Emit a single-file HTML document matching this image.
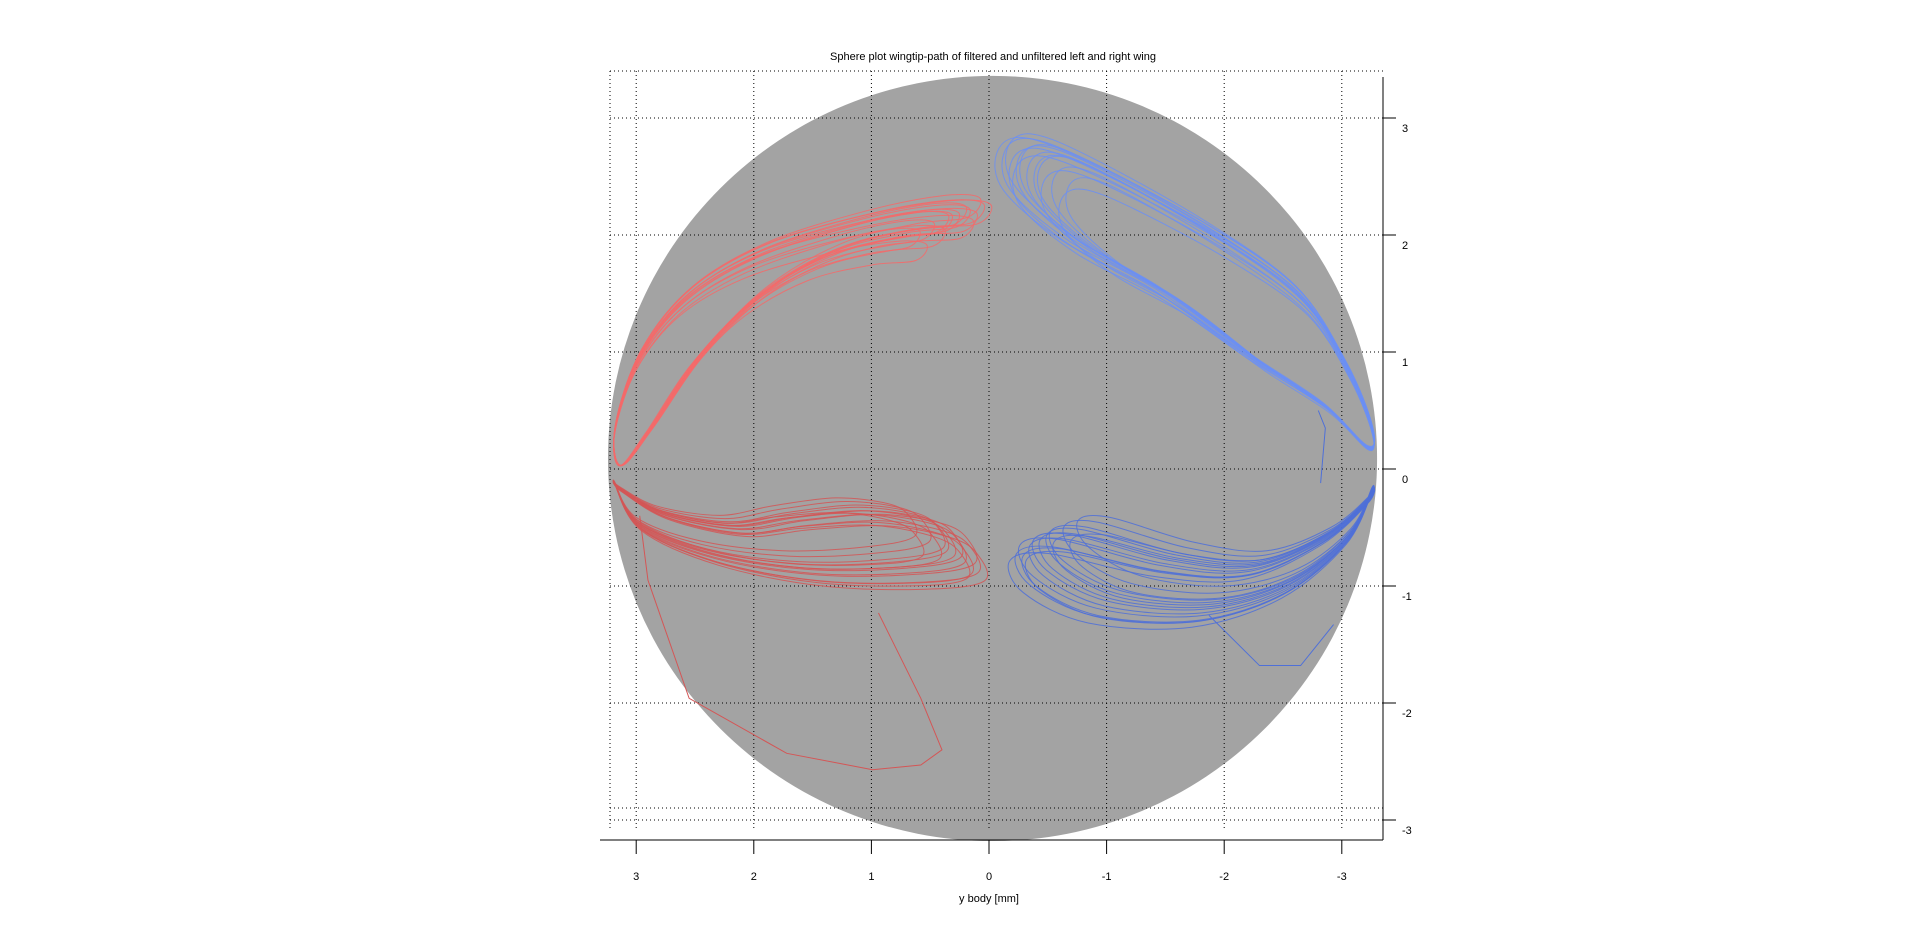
<!DOCTYPE html>
<html><head><meta charset="utf-8"><style>
html,body{margin:0;padding:0;background:#fff;width:1920px;height:950px;overflow:hidden}
svg{display:block}
text{font-family:"Liberation Sans",sans-serif;font-size:11px;fill:#000}
</style></head><body>
<svg id="chart" width="1920" height="950" xmlns="http://www.w3.org/2000/svg">
<text x="993" y="60" text-anchor="middle">Sphere plot wingtip-path of filtered and unfiltered left and right wing</text>
<text x="989" y="902" text-anchor="middle">y body [mm]</text>
</svg>
<script>
const xTicks = [3, 2, 1, 0, -1, -2, -3];
const yTicks = [3, 2, 1, 0, -1, -2, -3];
const sphereRadius = 3.27;
const cycleScales = [1, 0.95, 1.04, 0.9, 1.02, 0.97, 0.86, 1.06, 0.93, 0.99, 1.01, 0.94, 0.88, 1.03];
const cycleLifts = [0, 0.06, -0.05, 0.1, -0.08, 0.03, 0.12, -0.1, -0.02, 0.04, -0.12, 0.08, -0.04, 0.02];
// left (red) wing, [y, z] in mm
const redUpperY = [3.18,2.97,2.55,1.93,1.10,0.48,0.17,0.27,0.69,1.31,1.93,2.45,2.87,3.13];
const redUpperZ = [0.35,0.97,1.50,1.87,2.13,2.25,2.23,2.07,2.02,1.86,1.50,0.97,0.35,0.03];
const redLowerY = [3.18,2.97,2.35,1.52,0.69,0.22,0.27,0.48,1.00,1.62,2.14,2.76,3.13];
const redLowerZ = [-0.13,-0.49,-0.75,-0.89,-0.89,-0.81,-0.60,-0.47,-0.39,-0.44,-0.51,-0.39,-0.18];
const redStrayY = [2.97,2.90,2.55,1.72,0.99,0.58,0.40,0.58,0.94];
const redStrayZ = [-0.40,-0.95,-1.96,-2.43,-2.57,-2.53,-2.40,-1.96,-1.23];
// right (blue) wing
const blueUpperY = [-3.26,-3.05,-2.64,-1.91,-0.98,-0.46,-0.25,-0.30,-0.77,-1.50,-2.22,-2.85,-3.22];
const blueUpperZ = [0.35,0.87,1.50,2.03,2.55,2.76,2.65,2.34,1.92,1.50,0.97,0.55,0.19];
const blueLowerY = [-3.26,-3.05,-2.53,-1.81,-0.98,-0.46,-0.35,-0.66,-1.50,-2.22,-2.85,-3.22];
const blueLowerZ = [-0.18,-0.60,-1.02,-1.23,-1.17,-0.91,-0.65,-0.60,-0.81,-0.86,-0.60,-0.28];
const blueStrayAY = [-2.82,-2.86,-2.80];
const blueStrayAZ = [-0.12,0.35,0.50];
const blueStrayBY = [-1.87,-2.30,-2.65,-2.93];
const blueStrayBZ = [-1.25,-1.68,-1.68,-1.33];

const svg = document.getElementById('chart');
const NS = 'http://www.w3.org/2000/svg';
const X0 = 989, Y0 = 469, SX = 117.6, SY = 117;
const xs = v => X0 - v * SX;
const ys = v => Y0 - v * SY;
function mk(tag, attrs){const e=document.createElementNS(NS,tag);for(const k in attrs)e.setAttribute(k,attrs[k]);svg.appendChild(e);return e;}

const sph = mk('ellipse',{cx:xs(-0.03),cy:ys(0.09),rx:sphereRadius*SX,ry:sphereRadius*SY,fill:'#a3a3a3'});



const gl = 610, gr = 1383, gt = 71, gb = 830;
xTicks.forEach(t=>{
  const g = mk('line',{x1:xs(t),x2:xs(t),y1:gt,y2:gb,stroke:'#000','stroke-width':1,'stroke-dasharray':'1,3'});
  
  
});
yTicks.forEach(t=>{
  const g = mk('line',{x1:gl,x2:gr,y1:ys(t),y2:ys(t),stroke:'#000','stroke-width':1,'stroke-dasharray':'1,3'});
  
  
});
[[gl,gt,gr,gt],[gl,gt,gl,gb],[gl,808,gr,808]].forEach(c=>{
  const g = mk('line',{x1:c[0],y1:c[1],x2:c[2],y2:c[3],stroke:'#000','stroke-width':1,'stroke-dasharray':'1,3'});
  
  
});

function smoothClosed(P){
  const n=P.length;let d='M'+P[0][0].toFixed(1)+','+P[0][1].toFixed(1);
  for(let i=0;i<n;i++){
    const p0=P[(i-1+n)%n],p1=P[i],p2=P[(i+1)%n],p3=P[(i+2)%n];
    const c1=[p1[0]+(p2[0]-p0[0])/6,p1[1]+(p2[1]-p0[1])/6];
    const c2=[p2[0]-(p3[0]-p1[0])/6,p2[1]-(p3[1]-p1[1])/6];
    d+=' C'+c1[0].toFixed(1)+','+c1[1].toFixed(1)+' '+c2[0].toFixed(1)+','+c2[1].toFixed(1)+' '+p2[0].toFixed(1)+','+p2[1].toFixed(1);
  }
  return d;
}
function drawSet(Y, Z, color, name, rootY){
  cycleScales.forEach((s,i)=>{
    const pts = Y.map((y,j)=>{
      const yy = rootY + (y-rootY)*s;
      const zz = Z[j]*s + cycleLifts[i]*(Math.abs(y-rootY)/3);
      return [xs(yy), ys(zz)];
    });
    const p = mk('path',{d:smoothClosed(pts),fill:'none',stroke:color,'stroke-width':1,'stroke-opacity':0.85});
    
    
  });
}
drawSet(redUpperY, redUpperZ, '#f46a6a', 'left-wing-upstroke', 3.2);
drawSet(redLowerY, redLowerZ, '#d45656', 'left-wing-downstroke', 3.2);
drawSet(blueUpperY, blueUpperZ, '#6b8ff5', 'right-wing-upstroke', -3.25);
drawSet(blueLowerY, blueLowerZ, '#4f70d8', 'right-wing-downstroke', -3.25);
function stray(Y,Z,color,name){
  const p = mk('polyline',{points:Y.map((y,j)=>xs(y)+','+ys(Z[j])).join(' '),fill:'none',stroke:color,'stroke-width':1});
  
  
}
stray(redStrayY, redStrayZ, '#d45656', 'left-wing-stray-path');
stray(blueStrayAY, blueStrayAZ, '#4f70d8', 'right-wing-stray-path');
stray(blueStrayBY, blueStrayBZ, '#4f70d8', 'right-wing-stray-path');

const xa = mk('line',{x1:600,x2:1383,y1:840,y2:840,stroke:'#000','stroke-width':1});


const ya = mk('line',{x1:1383,x2:1383,y1:77,y2:840,stroke:'#000','stroke-width':1});


xTicks.forEach(t=>{
  const tk = mk('line',{x1:xs(t),x2:xs(t),y1:840,y2:854,stroke:'#000'});
  
  
  const lb = mk('text',{x:xs(t),y:880,'text-anchor':'middle'});
  lb.textContent = t;
  
  
});
yTicks.forEach(t=>{
  const tk = mk('line',{x1:1383,x2:1396,y1:ys(t),y2:ys(t),stroke:'#000'});
  
  
  const lb = mk('text',{x:1402,y:ys(t)+14,'text-anchor':'start'});
  lb.textContent = t;
  
  
});
</script>
</body></html>
